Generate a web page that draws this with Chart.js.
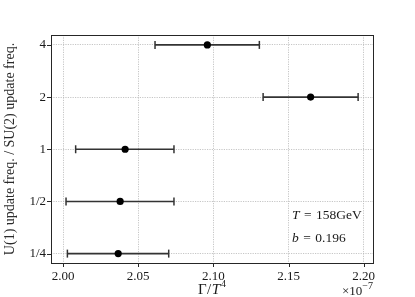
<!DOCTYPE html>
<html><head><meta charset="utf-8">
<script src="https://cdn.jsdelivr.net/npm/chart.js@4"></script>
<style>html,body{margin:0;padding:0;background:#fff}#wrap{width:415px;height:297px}</style>
</head><body><div id="wrap"><canvas id="c" width="415" height="297"></canvas></div>
<script>
const categories = ['1/4', '1/2', '1', '2', '4'];
const centerValues = [2.0367, 2.0380, 2.0413, 2.1647, 2.0960];
const lowerValues  = [2.0029, 2.0020, 2.0084, 2.1331, 2.0612];
const upperValues  = [2.0703, 2.0738, 2.0738, 2.1963, 2.1306];
const xTickValues = [2.00, 2.05, 2.10, 2.15, 2.20];
const xTickLabels = ['2.00', '2.05', '2.10', '2.15', '2.20'];

const SERIF = '"Liberation Serif", "DejaVu Serif", serif';
const FRAME = '#262626';

const datasets = [{
  type: 'scatter',
  data: centerValues.map((v, i) => ({x: v, y: i})),
  pointStyle: 'circle', pointRadius: 3.6, pointBackgroundColor: '#000', pointBorderColor: '#000',
  pointBorderWidth: 0, order: 0
}];
categories.forEach((c, i) => {
  datasets.push({
    type: 'line',
    data: [{x: lowerValues[i], y: i}, {x: upperValues[i], y: i}],
    borderColor: '#333', borderWidth: 1.6, showLine: true,
    pointStyle: 'line', rotation: 90, pointRadius: 4, pointBorderWidth: 1.5,
    pointBorderColor: '#333', pointBackgroundColor: '#333', order: 1
  });
});

const decor = {
  id: 'decor',
  afterDraw(chart) {
    const ctx = chart.ctx, a = chart.chartArea;
    const xs = chart.scales.x, ys = chart.scales.y;
    ctx.save();
    ctx.strokeStyle = FRAME; ctx.lineWidth = 1;
    ctx.beginPath();
    xs.ticks.forEach(t => { const p = Math.round(xs.getPixelForValue(t.value)) + 0.5; ctx.moveTo(p, a.bottom); ctx.lineTo(p, a.bottom + 4); });
    ys.ticks.forEach(t => { const p = Math.round(ys.getPixelForValue(t.value)) + 0.5; ctx.moveTo(a.left, p); ctx.lineTo(a.left - 4, p); });
    ctx.stroke();
    ctx.strokeRect(Math.round(a.left) + 0.5, Math.round(a.top) + 0.5, Math.round(a.right - a.left), Math.round(a.bottom - a.top));
    ctx.fillStyle = '#1a1a1a'; ctx.textBaseline = 'alphabetic'; ctx.textAlign = 'left';
    const drawParts = (parts, x, y) => {
      parts.forEach(p => { ctx.font = p[1]; ctx.fillText(p[0], x + (p[2] || 0), y); x += ctx.measureText(p[0]).width + (p[2] || 0); });
      return x;
    };
    const reg = '13.5px ' + SERIF, it = 'italic 13.5px ' + SERIF;
    drawParts([['T', it], ['=', reg, 4.5], ['158GeV', reg, 4.5]], 292, 219);
    drawParts([['b', it], ['=', reg, 4.5], ['0.196', reg, 4.5]], 292, 242);
    const r15 = '15px ' + SERIF, i15 = 'italic 15px ' + SERIF, s10 = '10px ' + SERIF;
    ctx.font = r15; let w = ctx.measureText('Γ/').width + 1; ctx.font = i15; w += ctx.measureText('T').width + 1; ctx.font = s10; w += ctx.measureText('4').width;
    let x0 = (a.left + a.right) / 2 - w / 2;
    x0 = drawParts([['Γ', r15], ['/', r15, 0.5], ['T', i15, 0.5]], x0, 294);
    ctx.font = s10; ctx.fillText('4', x0 + 1, 287);
    ctx.font = '10px ' + SERIF; const ew = ctx.measureText('−7').width;
    ctx.font = '13px ' + SERIF; const bw = ctx.measureText('×10').width;
    const ex = a.right - ew - bw;
    ctx.fillText('×10', ex, 295);
    ctx.font = '10px ' + SERIF; ctx.fillText('−7', ex + bw, 289);
    ctx.restore();
  }
};

new Chart(document.getElementById('c'), {
  data: {datasets},
  options: {
    responsive: false, animation: false, devicePixelRatio: 1,
    layout: {padding: {top: 35, right: 42, left: 0, bottom: 0}},
    plugins: {legend: {display: false}, tooltip: {enabled: false}},
    scales: {
      x: {
        type: 'linear', position: 'bottom', min: 1.992, max: 2.2062,
        afterBuildTicks: s => { s.ticks = xTickValues.map(v => ({value: v})); },
        afterFit: s => { s.height = 34; },
        ticks: {callback: (v, i) => xTickLabels[i], color: '#1a1a1a', font: {family: SERIF, size: 13}, padding: 6, maxRotation: 0, autoSkip: false},
        grid: {color: '#b8b8b8', lineWidth: 0.8, drawTicks: false},
        border: {display: false, dash: [1.2, 1.2]}
      },
      y: {
        type: 'linear', position: 'left', min: -0.18, max: 4.19,
        afterBuildTicks: s => { s.ticks = categories.map((c, i) => ({value: i})); },
        afterFit: s => { s.width = 51; },
        ticks: {callback: (v) => categories[Math.round(v)], color: '#1a1a1a', font: {family: SERIF, size: 13}, padding: 5, autoSkip: false},
        grid: {color: '#b8b8b8', lineWidth: 0.8, drawTicks: false},
        border: {display: false, dash: [1.2, 1.2]},
        title: {display: true, text: 'U(1) update freq. / SU(2) update freq.', color: '#2a2a2a', font: {family: SERIF, size: 14}, padding: {top: 2, bottom: 0}}
      }
    }
  },
  plugins: [decor]
});
</script></body></html>
